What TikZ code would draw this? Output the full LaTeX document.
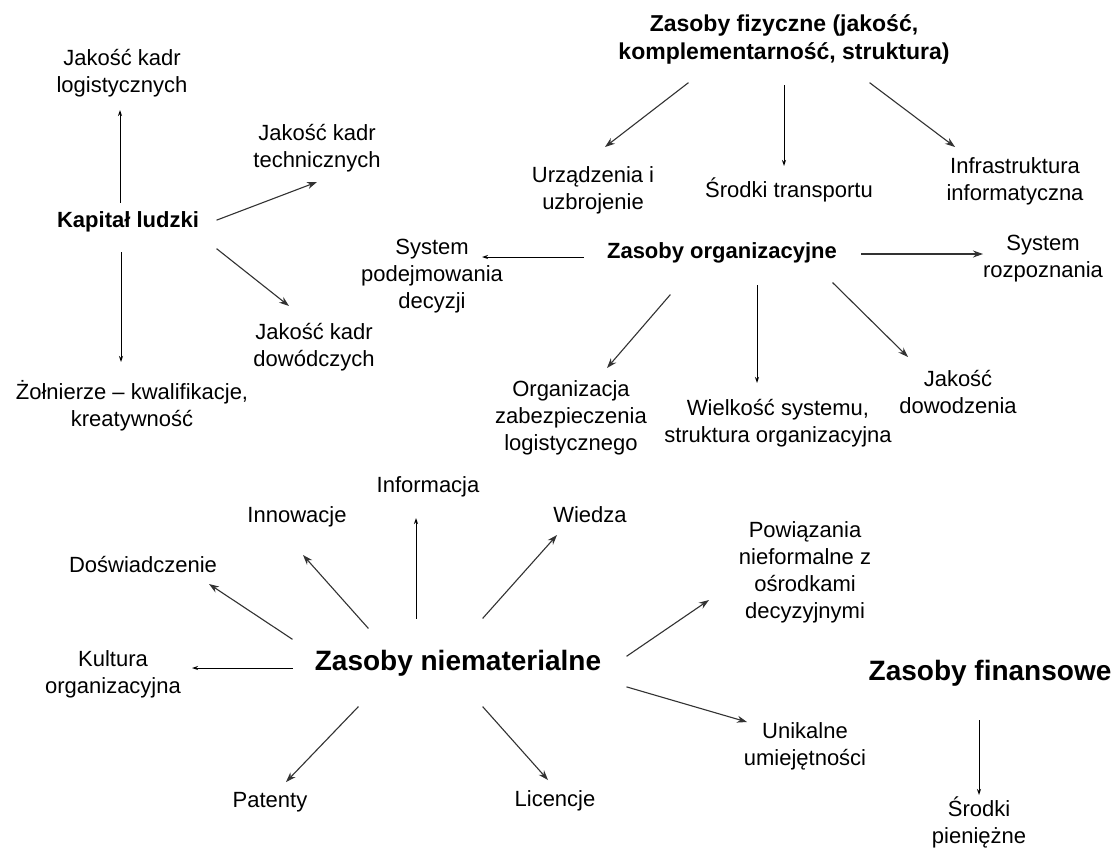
\documentclass[tikz,border=0pt]{standalone}
\usepackage{fontspec}
\setmainfont{Liberation Sans}
\usepackage{xcolor}
\usetikzlibrary{arrows.meta}

\definecolor{custcol_0_0_0}{RGB}{0, 0, 0}
\definecolor{custcol_50_50_50}{RGB}{50, 50, 50}
\definecolor{custcol_ff_ff_ff}{RGB}{255, 255, 255}

\tikzset{
  tekst/.style={custcol_0_0_0, align=center, inner sep=0, outer sep=0,
    font=\fontsize{22pt}{27pt}\selectfont},
  glowny/.style={tekst, font=\fontsize{22pt}{28pt}\bfseries\selectfont},
  duzy/.style={tekst, font=\fontsize{28pt}{32pt}\bfseries\selectfont},
  strz/.style={-{Stealth[length=10pt,width=7pt]}, line width=1.1pt, custcol_50_50_50},
  strzm/.style={-{Stealth[length=6pt,width=4pt]}, line width=1.0pt, custcol_0_0_0}
}

\begin{document}
\begin{tikzpicture}[x=1pt,y=-1pt,line cap=rect]
\useasboundingbox (0,0) rectangle (1115,854);
\fill[custcol_ff_ff_ff] (0,0) rectangle (1115,854);
% kapital ludzki
\node[glowny] (kap) at (128,222) {Kapitał ludzki};
\node[tekst] (logist) at (122,73) {Jakość kadr\\logistycznych};
\node[tekst] (tech) at (317,148) {Jakość kadr\\technicznych};
\node[tekst] (dow) at (314,347) {Jakość kadr\\dowódczych};
\node[tekst] (zol) at (132,406) {Żołnierze – kwalifikacje,\\kreatywność};
\draw[strzm] ([shift={(-8,-20)}]kap.center) -- ([shift={(-2,37)}]logist.center);
\draw[strz] ([shift={(89,-2)}]kap.center) -- ([shift={(0,34)}]tech.center);
\draw[strz] ([shift={(89,27)}]kap.center) -- ([shift={(-25,-41)}]dow.center);
\draw[strzm] ([shift={(-7,30)}]kap.center) -- ([shift={(-11,-44)}]zol.center);
% zasoby fizyczne
\node[glowny, font=\fontsize{23pt}{28pt}\bfseries\selectfont] (fiz) at (784,39) {Zasoby fizyczne (jakość,\\komplementarność, struktura)};
\node[tekst] (urz) at (593,190) {Urządzenia i\\uzbrojenie};
\node[tekst] (srt) at (789,190) {Środki transportu};
\node[tekst] (inf) at (1015,181) {Infrastruktura\\informatyczna};
\draw[strz] ([shift={(-96,44)}]fiz.center) -- ([shift={(12,-43)}]urz.center);
\draw[strzm] ([shift={(0,46)}]fiz.center) -- ([shift={(-5,-24)}]srt.center);
\draw[strz] ([shift={(86,44)}]fiz.center) -- ([shift={(-60,-34)}]inf.center);
% zasoby organizacyjne
\node[glowny] (org) at (722,253) {Zasoby organizacyjne};
\node[tekst] (spd) at (432,276) {System\\podejmowania\\decyzji};
\node[tekst] (srz) at (1043,259) {System\\rozpoznania};
\node[tekst] (ozl) at (571,418) {Organizacja\\zabezpieczenia\\logistycznego};
\node[tekst] (wsy) at (778,423) {Wielkość systemu,\\struktura organizacyjna};
\node[tekst] (jdw) at (958,392) {Jakość\\dowodzenia};
\draw[strzm] ([shift={(-139,4)}]org.center) -- ([shift={(50,-19)}]spd.center);
\draw[strz] ([shift={(140,1)}]org.center) -- ([shift={(-60,-5)}]srz.center);
\draw[strz] ([shift={(-52,42)}]org.center) -- ([shift={(36,-50)}]ozl.center);
\draw[strzm] ([shift={(35,32)}]org.center) -- ([shift={(-21,-40)}]wsy.center);
\draw[strz] ([shift={(111,30)}]org.center) -- ([shift={(-50,-35)}]jdw.center);
% zasoby niematerialne
\node[duzy] (nm) at (458,663) {Zasoby niematerialne};
\node[tekst] (infm) at (428,487) {Informacja};
\node[tekst] (inn) at (297,517) {Innowacje};
\node[tekst] (dos) at (143,564) {Doświadczenie};
\node[tekst] (kul) at (113,674) {Kultura\\organizacyjna};
\node[tekst] (pat) at (270,802) {Patenty};
\node[tekst] (lic) at (555,801) {Licencje};
\node[tekst] (wie) at (590,515) {Wiedza};
\node[tekst] (pow) at (805,572) {Powiązania\\nieformalne z\\ośrodkami\\decyzyjnymi};
\node[tekst] (uni) at (805,746) {Unikalne\\umiejętności};
\draw[strzm] ([shift={(-42,-45)}]nm.center) -- ([shift={(-12,31)}]infm.center);
\draw[strz] ([shift={(-90,-35)}]nm.center) -- ([shift={(6,38)}]inn.center);
\draw[strz] ([shift={(-166,-24)}]nm.center) -- ([shift={(66,20)}]dos.center);
\draw[strzm] ([shift={(-166,5)}]nm.center) -- ([shift={(79,-6)}]kul.center);
\draw[strz] ([shift={(-100,44)}]nm.center) -- ([shift={(16,-20)}]pat.center);
\draw[strz] ([shift={(25,44)}]nm.center) -- ([shift={(-7,-21)}]lic.center);
\draw[strz] ([shift={(25,-45)}]nm.center) -- ([shift={(-33,20)}]wie.center);
\draw[strz] ([shift={(169,-7)}]nm.center) -- ([shift={(-96,28)}]pow.center);
\draw[strz] ([shift={(169,24)}]nm.center) -- ([shift={(-58,-24)}]uni.center);
% zasoby finansowe
\node[duzy] (fin) at (990,673) {Zasoby finansowe};
\node[tekst] (srp) at (979,822) {Środki\\pieniężne};
\draw[strzm] ([shift={(-11,47)}]fin.center) -- ([shift={(0,-27)}]srp.center);
\end{tikzpicture}
\end{document}
